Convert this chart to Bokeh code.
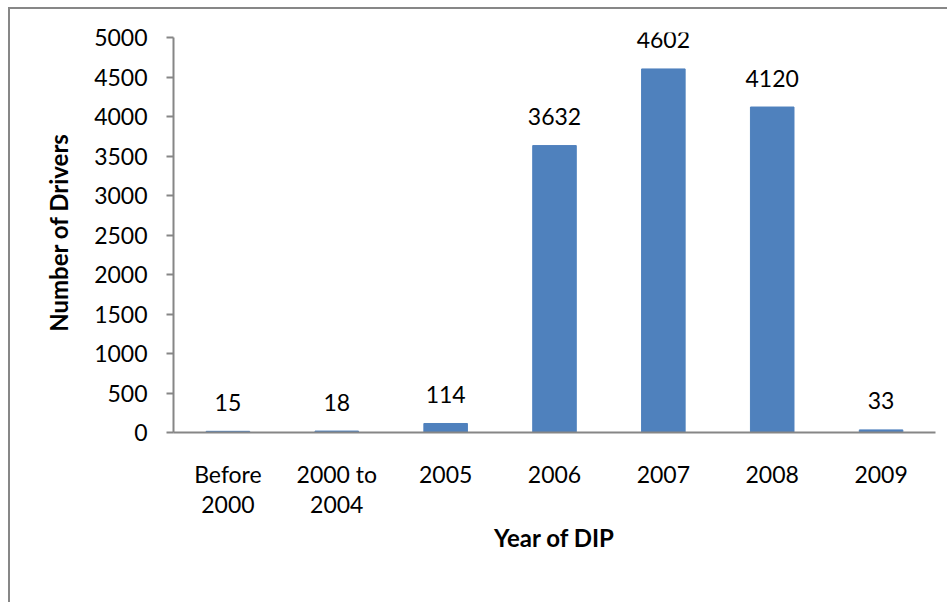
from bokeh.plotting import figure
from bokeh.models import Range1d, ColumnDataSource, FixedTicker
from bokeh.core.properties import value
from bokeh.embed import file_html
from bokeh.resources import INLINE

categories = ["Before 2000", "2000 to 2004", "2005", "2006", "2007", "2008", "2009"]
tick_labels = ["Before\n2000", "2000 to\n2004", "2005", "2006", "2007", "2008", "2009"]
drivers = [15, 18, 114, 3632, 4602, 4120, 33]
y_ticks = [0, 500, 1000, 1500, 2000, 2500, 3000, 3500, 4000, 4500, 5000]
y_max = 5000

FONT = "Lato"
FS = "23px"
AXIS_COLOR = "#868686"
BAR_COLOR = "#4F81BD"

# category slots on a numeric scale: slot i spans [i, i+1]
xpos = [i + 0.5 for i in range(len(categories))]

src = ColumnDataSource(dict(x=xpos, cat=categories, val=drivers, lab=[str(v) for v in drivers]))

# a little headroom above 5000 so the tallest data label is not clipped
head_px, plot_px = 5, 395
p = figure(
    x_range=Range1d(0, len(categories)),
    y_range=Range1d(0, y_max * (plot_px + head_px) / plot_px),
    width=939, height=595,
    output_backend="svg", toolbar_location=None,
    min_border_left=163, min_border_top=28 - head_px, min_border_right=14, min_border_bottom=172,
)
p.margin = (7, 0, 0, 8)
p.styles = {"border-left": "2px solid #878787", "border-top": "2px solid #878787"}
p.outline_line_color = None
p.xgrid.grid_line_color = None
p.ygrid.grid_line_color = None
p.background_fill_color = "white"
p.border_fill_color = "white"

p.vbar(x="x", top="val", width=0.4, source=src, fill_color=BAR_COLOR, line_color=BAR_COLOR)
p.text(x="x", y="val", text="lab", source=src, text_align="center", text_baseline="alphabetic",
       y_offset=-29, text_font=value(FONT), text_font_size=FS, text_color="black")

# y axis
ya = p.yaxis[0]
ya.bounds = (0, y_max)
ya.ticker = FixedTicker(ticks=y_ticks)
ya.minor_tick_line_color = None
ya.major_tick_in = 0
ya.major_tick_out = 7
ya.axis_line_color = AXIS_COLOR
ya.major_tick_line_color = AXIS_COLOR
ya.axis_line_width = 2
ya.major_tick_line_width = 2
ya.major_label_standoff = 19
ya.major_label_text_font = FONT
ya.major_label_text_font_size = FS
ya.major_label_text_color = "black"
ya.axis_label = "Number of Drivers"
ya.axis_label_text_font = FONT
ya.axis_label_text_font_size = "24px"
ya.axis_label_text_font_style = "bold"
ya.axis_label_text_color = "black"
ya.axis_label_standoff = 18

# x axis
xa = p.xaxis[0]
xa.ticker = FixedTicker(ticks=xpos)
xa.major_label_overrides = {x: t for x, t in zip(xpos, tick_labels)}
xa.major_tick_in = 0
xa.major_tick_out = 0
xa.minor_tick_line_color = None
xa.axis_line_color = AXIS_COLOR
xa.axis_line_width = 2
xa.major_label_standoff = 27
xa.major_label_text_font = FONT
xa.major_label_text_font_size = FS
xa.major_label_text_color = "black"
xa.major_label_text_line_height = 1.1
xa.axis_label = "Year of DIP"
xa.axis_label_text_font = FONT
xa.axis_label_text_font_size = "24px"
xa.axis_label_text_font_style = "bold"
xa.axis_label_text_color = "black"
xa.axis_label_standoff = 2

open("out.html", "w").write(file_html(p, INLINE))
